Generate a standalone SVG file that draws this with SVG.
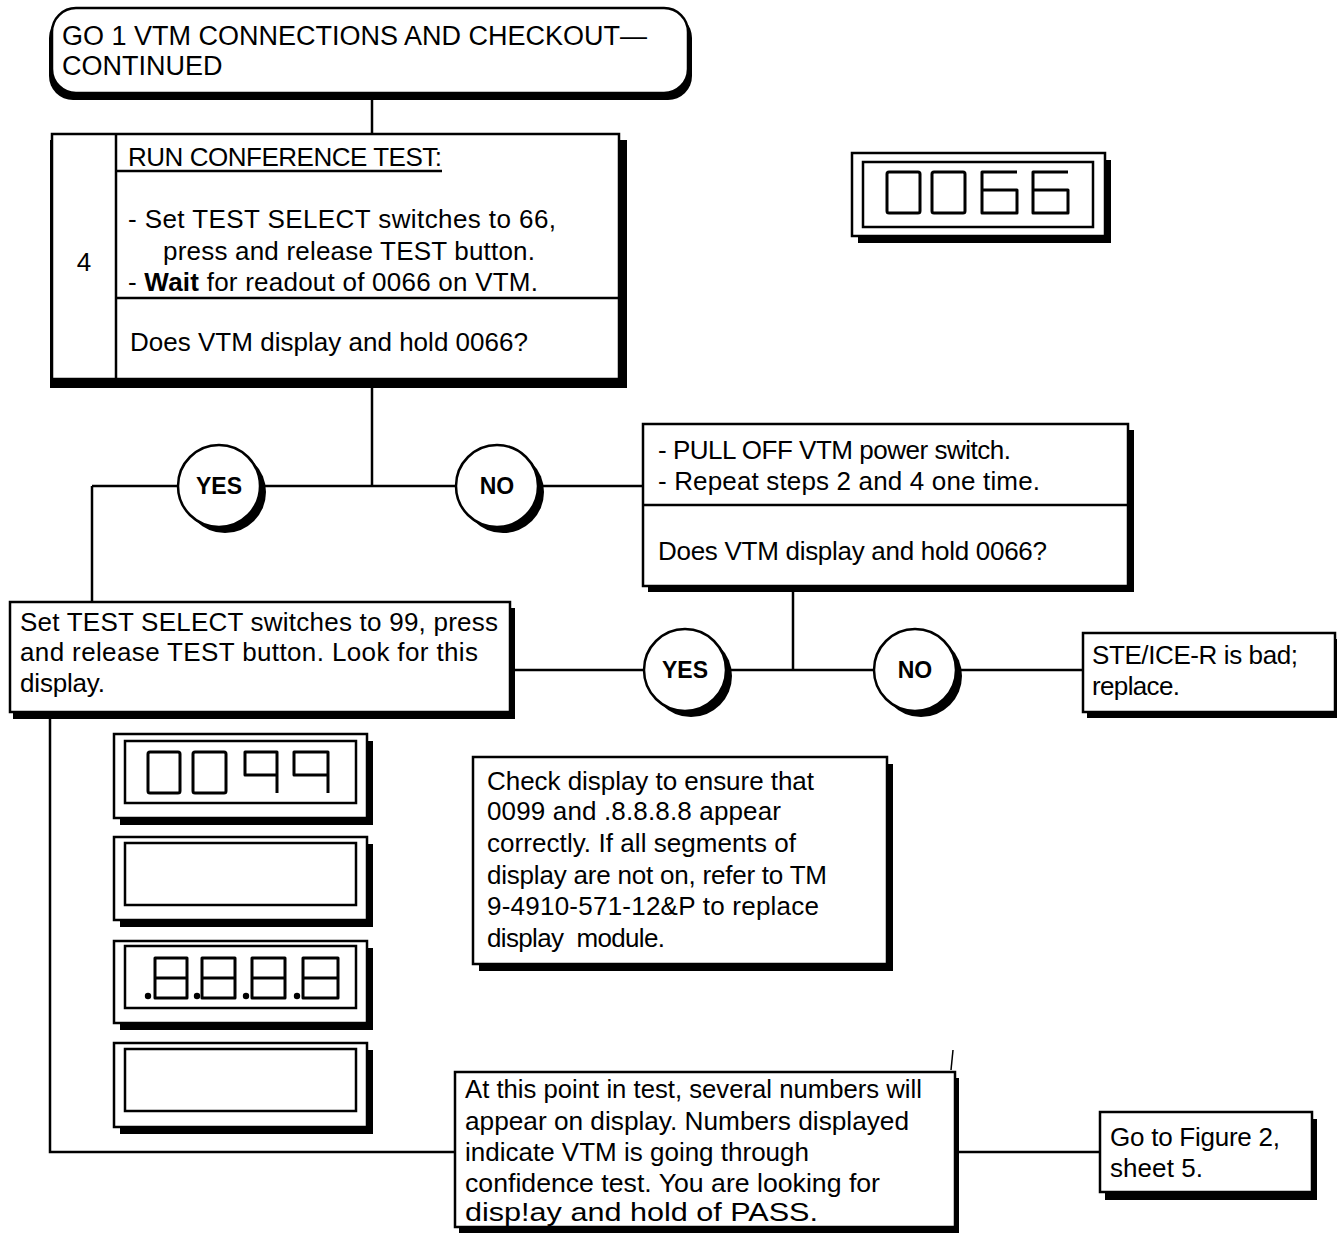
<svg xmlns="http://www.w3.org/2000/svg" width="1337" height="1234" viewBox="0 0 1337 1234">
<style>
text{font-family:"Liberation Sans",Arial,sans-serif;font-size:26px;fill:#000}
.hdr{font-size:27px}
.lbl{font-size:23px;font-weight:bold;text-anchor:middle}
.box{fill:#fff;stroke:#000;stroke-width:2.5}
.sh{fill:#000}
.ln{stroke:#000;stroke-width:2.5;fill:none}
.seg{stroke:#000;stroke-width:3;fill:none;stroke-linejoin:round}
</style>
<rect width="1337" height="1234" fill="#fff"/>
<g id="connectors" class="ln">
  <path d="M372 95V134"/>
  <path d="M372 386V486"/>
  <path d="M92 486H643"/>
  <path d="M92 486V602"/>
  <path d="M793 590V670"/>
  <path d="M510 670H1083"/>
  <path d="M50 712V1152H455"/>
  <path d="M955 1152H1100"/>
  <path d="M951 1070L953 1050" stroke-width="1.5"/>
</g>
<g id="header">
  <rect class="sh" x="49" y="14" width="643" height="86" rx="24"/>
  <rect class="box" x="52" y="8" width="636" height="85" rx="24"/>
  <text class="hdr" x="62" y="45">GO 1 VTM CONNECTIONS AND CHECKOUT—</text>
  <text class="hdr" x="62" y="75">CONTINUED</text>
</g>
<g id="step4">
  <rect class="sh" x="50" y="140" width="577" height="248"/>
  <rect class="box" x="52" y="134" width="567" height="245"/>
  <path class="ln" d="M116 134V379"/>
  <path class="ln" d="M116 171H442" stroke-width="2"/>
  <path class="ln" d="M116 298H619" stroke-width="4"/>
  <text x="84" y="271" text-anchor="middle">4</text>
  <text x="128" y="166" textLength="314">RUN CONFERENCE TEST:</text>
  <text x="128" y="228" textLength="428">- Set TEST SELECT switches to 66,</text>
  <text x="163" y="260" textLength="372">press and release TEST button.</text>
  <text x="128" y="291" textLength="410">- <tspan font-weight="bold">Wait</tspan> for readout of 0066 on VTM.</text>
  <text x="130" y="351" textLength="398">Does VTM display and hold 0066?</text>
</g>
<g id="display0066">
  <rect class="sh" x="858" y="160" width="253" height="83"/>
  <rect class="box" x="852" y="153" width="253" height="83"/>
  <rect class="box" x="863" y="162" width="230" height="65"/>
  <rect class="seg" x="887" y="172" width="33" height="41" rx="2"/>
  <rect class="seg" x="932" y="172" width="33" height="41" rx="2"/>
  <path class="seg" d="M1017 172H982V213H1017V190H982"/>
  <path class="seg" d="M1068 172H1033V213H1068V190H1033"/>
</g>
<g id="yes1">
  <circle class="sh" cx="225" cy="492" r="41"/>
  <circle class="box" cx="219" cy="486" r="41"/>
  <text class="lbl" x="219" y="494">YES</text>
</g>
<g id="no1">
  <circle class="sh" cx="503" cy="492" r="41"/>
  <circle class="box" cx="497" cy="486" r="41"/>
  <text class="lbl" x="497" y="494">NO</text>
</g>
<g id="pulloff">
  <rect class="sh" x="648" y="430" width="486" height="162"/>
  <rect class="box" x="643" y="424" width="485" height="162"/>
  <path class="ln" d="M643 505H1128" stroke-width="3.5"/>
  <text x="658" y="459" textLength="353">- PULL OFF VTM power switch.</text>
  <text x="658" y="490" textLength="382">- Repeat steps 2 and 4 one time.</text>
  <text x="658" y="560" textLength="389">Does VTM display and hold 0066?</text>
</g>
<g id="set99">
  <rect class="sh" x="13" y="608" width="502" height="111"/>
  <rect class="box" x="10" y="602" width="500" height="110"/>
  <text x="20" y="631" textLength="478">Set TEST SELECT switches to 99, press</text>
  <text x="20" y="661" textLength="458">and release TEST button. Look for this</text>
  <text x="20" y="692" textLength="85">display.</text>
</g>
<g id="yes2">
  <circle class="sh" cx="691" cy="676" r="41"/>
  <circle class="box" cx="685" cy="670" r="41"/>
  <text class="lbl" x="685" y="678">YES</text>
</g>
<g id="no2">
  <circle class="sh" cx="921" cy="676" r="41"/>
  <circle class="box" cx="915" cy="670" r="41"/>
  <text class="lbl" x="915" y="678">NO</text>
</g>
<g id="bad">
  <rect class="sh" x="1087" y="639" width="252" height="79"/>
  <rect class="box" x="1083" y="633" width="252" height="79"/>
  <text x="1092" y="664" textLength="206">STE/ICE-R is bad;</text>
  <text x="1092" y="695" textLength="88">replace.</text>
</g>
<g id="display0099">
  <rect class="sh" x="120" y="741" width="253" height="84"/>
  <rect class="box" x="114" y="734" width="253" height="84"/>
  <rect class="box" x="125" y="741" width="231" height="62"/>
  <rect class="seg" x="148" y="752" width="32" height="41" rx="2"/>
  <rect class="seg" x="193" y="752" width="33" height="41" rx="2"/>
  <path class="seg" d="M277 793V752H245V775H277"/>
  <path class="seg" d="M328 793V752H294V775H328"/>
</g>
<g id="displayBlank1">
  <rect class="sh" x="120" y="844" width="253" height="83"/>
  <rect class="box" x="114" y="837" width="253" height="83"/>
  <rect class="box" x="125" y="843" width="231" height="62"/>
</g>
<g id="display8888">
  <rect class="sh" x="120" y="948" width="253" height="82"/>
  <rect class="box" x="114" y="941" width="253" height="82"/>
  <rect class="box" x="125" y="946" width="231" height="62"/>
  <rect class="seg" x="155" y="958" width="32" height="40"/>
  <rect class="seg" x="202" y="958" width="33" height="40"/>
  <rect class="seg" x="252" y="958" width="33" height="40"/>
  <rect class="seg" x="303" y="958" width="35" height="40"/>
  <path class="seg" d="M155 978H187M202 978H235M252 978H285M303 978H338"/>
  <circle cx="148" cy="996" r="3.2"/>
  <circle cx="197" cy="996" r="3.2"/>
  <circle cx="246" cy="996" r="3.2"/>
  <circle cx="297" cy="996" r="3.2"/>
</g>
<g id="displayBlank2">
  <rect class="sh" x="120" y="1050" width="253" height="84"/>
  <rect class="box" x="114" y="1043" width="253" height="84"/>
  <rect class="box" x="125" y="1049" width="231" height="62"/>
</g>
<g id="check">
  <rect class="sh" x="479" y="764" width="414" height="207"/>
  <rect class="box" x="473" y="757" width="414" height="207"/>
  <text x="487" y="790" textLength="327">Check display to ensure that</text>
  <text x="487" y="820" textLength="294">0099 and .8.8.8.8 appear</text>
  <text x="487" y="852" textLength="309">correctly. If all segments of</text>
  <text x="487" y="884" textLength="340">display are not on, refer to TM</text>
  <text x="487" y="915" textLength="332">9-4910-571-12&amp;P to replace</text>
  <text x="487" y="947" style="white-space:pre" textLength="178">display  module.</text>
</g>
<g id="confidence">
  <rect class="sh" x="459" y="1078" width="500" height="155"/>
  <rect class="box" x="455" y="1072" width="500" height="155"/>
  <text x="465" y="1098" textLength="457" lengthAdjust="spacingAndGlyphs">At this point in test, several numbers will</text>
  <text x="465" y="1130" textLength="444" lengthAdjust="spacingAndGlyphs">appear on display. Numbers displayed</text>
  <text x="465" y="1161" textLength="344" lengthAdjust="spacingAndGlyphs">indicate VTM is going through</text>
  <text x="465" y="1192" textLength="415" lengthAdjust="spacingAndGlyphs">confidence test. You are looking for</text>
  <text x="465" y="1221" textLength="353" lengthAdjust="spacingAndGlyphs">disp!ay and hold of PASS.</text>
</g>
<g id="goto">
  <rect class="sh" x="1105" y="1119" width="212" height="81"/>
  <rect class="box" x="1100" y="1112" width="212" height="80"/>
  <text x="1110" y="1146" textLength="170">Go to Figure 2,</text>
  <text x="1110" y="1177" textLength="93">sheet 5.</text>
</g>
</svg>
